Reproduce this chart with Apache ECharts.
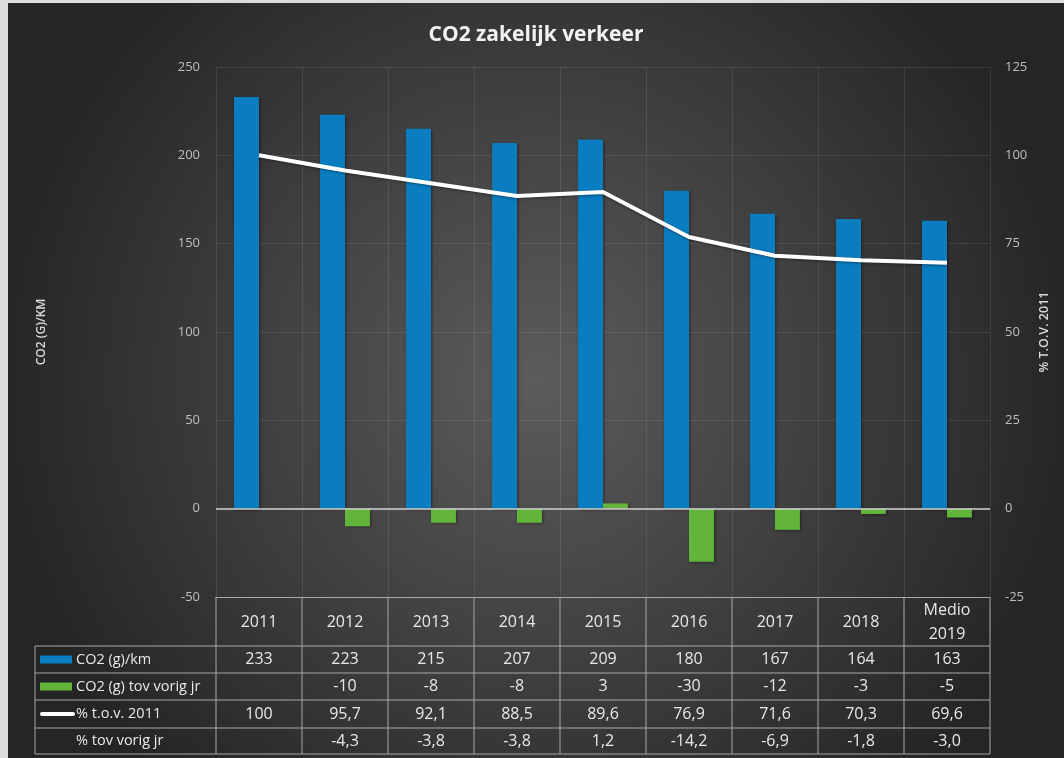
<!DOCTYPE html>
<html>
<head>
<meta charset="utf-8">
<script src="https://cdn.jsdelivr.net/npm/echarts@6/dist/echarts.min.js"></script>
<style>
html,body{margin:0;padding:0;background:#dcdcdc;width:1064px;height:758px;overflow:hidden;}
#c{position:absolute;left:8px;top:3px;width:1056px;height:755px;}
</style>
</head>
<body>
<div id="c"></div>
<script>
const categories = ['2011','2012','2013','2014','2015','2016','2017','2018','Medio\n2019'];
const co2 = [233,223,215,207,209,180,167,164,163];
const co2Diff = [null,-10,-8,-8,3,-30,-12,-3,-5];
const pctOf2011 = [100,95.7,92.1,88.5,89.6,76.9,71.6,70.3,69.6];
const pctDiff = [null,-4.3,-3.8,-3.8,1.2,-14.2,-6.9,-1.8,-3.0];
const leftTicks = [-50,250,50];
const rightTicks = [-25,125,25];
const rowNames = ['CO2 (g)/km','CO2 (g) tov vorig jr','% t.o.v. 2011','% tov vorig jr'];

const BLUE = '#0a7dc0', GREEN = '#62b43b';
const FONT = "'Open Sans', sans-serif";
const chart = echarts.init(document.getElementById('c'));

const G = {left:208, top:64, width:774, height:530};
const fmt1 = v => v == null ? '' : v.toFixed(1).replace('.', ',');
const fmtP = v => v == null ? '' : (Number.isInteger(v) ? String(v) : fmt1(v));
const fmtI = v => v == null ? '' : String(v);

chart.setOption({
  backgroundColor: {
    type:'radial', x:0.5, y:0.5, r:0.72,
    colorStops:[{offset:0,color:'#5c5c5c'},{offset:1,color:'#252525'}]
  },
  title:{
    text:'CO2 zakelijk verkeer', left:'center', top:17,
    textStyle:{color:'#f2f2f2', fontSize:21, fontWeight:'bold', fontFamily:FONT}
  },
  grid:{left:G.left, top:G.top, width:G.width, height:G.height, containLabel:false},
  xAxis:{
    type:'category', data:categories, position:'bottom',
    axisLine:{show:true, onZero:false, lineStyle:{color:'#a8a8a8', width:1}},
    axisTick:{show:false},
    splitLine:{show:true, lineStyle:{color:'rgba(255,255,255,0.09)'}},
    axisLabel:{color:'#e8e8e8', fontSize:16, fontFamily:FONT, margin:25, verticalAlign:'middle', lineHeight:24, interval:0}
  },
  yAxis:[{
    type:'value', min:leftTicks[0], max:leftTicks[1], interval:leftTicks[2],
    name:'CO2 (G)/KM', nameLocation:'middle', nameGap:168, nameRotate:90,
    nameTextStyle:{color:'#d9d9d9', fontSize:12, fontWeight:600, fontFamily:FONT},
    axisLine:{show:false}, axisTick:{show:false},
    axisLabel:{color:'#bfbfbf', fontSize:13, fontFamily:FONT, margin:16},
    splitLine:{show:true, lineStyle:{color:'rgba(255,255,255,0.09)'}}
  },{
    type:'value', min:rightTicks[0], max:rightTicks[1], interval:rightTicks[2],
    name:'% T.O.V. 2011', nameLocation:'middle', nameGap:44, nameRotate:90,
    nameTextStyle:{color:'#d9d9d9', fontSize:12.5, fontWeight:600, fontFamily:FONT},
    axisLine:{show:false}, axisTick:{show:false},
    axisLabel:{color:'#bfbfbf', fontSize:13, fontFamily:FONT, margin:15},
    splitLine:{show:false}
  }],
  series:[{
    name:'CO2 (g)/km', type:'bar', data:co2, barGap:'0%', barCategoryGap:'42%',
    itemStyle:{color:BLUE, shadowColor:'rgba(0,0,0,0.45)', shadowBlur:3, shadowOffsetX:1, shadowOffsetY:1},
    markLine:{silent:true, symbol:'none', label:{show:false},
      lineStyle:{color:'#d0d0d0', width:1.5, type:'solid'}, data:[{yAxis:0}]}
  },{
    name:'CO2 (g) tov vorig jr', type:'bar', data:co2Diff,
    itemStyle:{color:GREEN, shadowColor:'rgba(0,0,0,0.45)', shadowBlur:3, shadowOffsetX:1, shadowOffsetY:1}
  },{
    name:'% t.o.v. 2011', type:'line', yAxisIndex:1, data:pctOf2011,
    symbol:'none', z:5,
    lineStyle:{color:'#ffffff', width:4, shadowColor:'rgba(0,0,0,0.4)', shadowBlur:3, shadowOffsetY:1},
    itemStyle:{color:'#ffffff'}
  }],
  animation:false
});

// Data table below the plot, built from the arrays
const xs = categories.map(c => chart.convertToPixel({xAxisIndex:0}, c));
const colW = G.width / categories.length;
const tableTop = G.top + G.height;
const rowY = [643, 670, 697, 725, 751];
const tableLeft = 27, tableRight = G.left + G.width;
const lineCol = '#a8a8a8';
const els = [];
rowY.forEach(y => els.push({type:'line', shape:{x1:tableLeft, y1:y, x2:tableRight, y2:y}, style:{stroke:lineCol, lineWidth:1}}));
els.push({type:'line', shape:{x1:tableLeft, y1:rowY[0], x2:tableLeft, y2:rowY[4]}, style:{stroke:lineCol, lineWidth:1}});
for (let i = 0; i <= categories.length; i++) {
  const x = G.left + i * colW;
  els.push({type:'line', shape:{x1:x, y1:tableTop, x2:x, y2:rowY[4]}, style:{stroke:lineCol, lineWidth:1}});
}
const rows = [co2.map(fmtI), co2Diff.map(fmtI), pctOf2011.map(fmtP), pctDiff.map(fmt1)];
const txtStyle = {fill:'#e8e8e8', fontSize:16, fontFamily:FONT};
rows.forEach((r, ri) => {
  const cy = (rowY[ri] + rowY[ri+1]) / 2;
  r.forEach((t, i) => {
    els.push({type:'text', x:xs[i], y:cy, style:Object.assign({text:t, align:'center', verticalAlign:'middle'}, txtStyle)});
  });
  els.push({type:'text', x:68, y:cy, style:Object.assign({text:rowNames[ri], align:'left', verticalAlign:'middle'}, txtStyle, {fontSize:14.5})});
});
els.push({type:'rect', shape:{x:32, y:(rowY[0]+rowY[1])/2-4, width:32, height:8}, style:{fill:BLUE}});
els.push({type:'rect', shape:{x:32, y:(rowY[1]+rowY[2])/2-4, width:32, height:8}, style:{fill:GREEN}});
els.push({type:'line', shape:{x1:34, y1:(rowY[2]+rowY[3])/2, x2:65, y2:(rowY[2]+rowY[3])/2}, style:{stroke:'#ffffff', lineWidth:4, lineCap:'round'}});

chart.setOption({graphic:{elements:els}});
</script>
</body>
</html>
